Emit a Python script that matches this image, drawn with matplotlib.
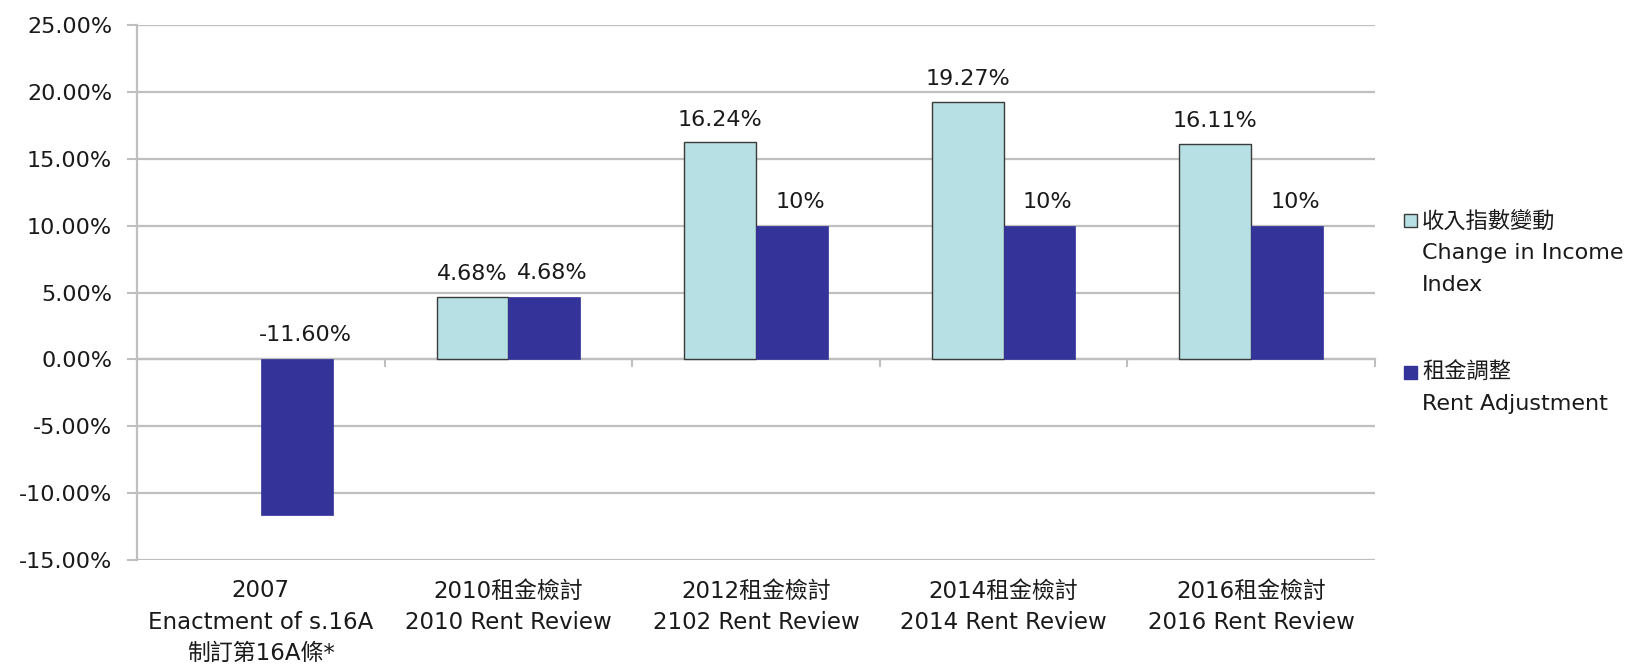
import matplotlib
matplotlib.use("Agg")
import matplotlib.pyplot as plt
import numpy as np
from matplotlib.patches import Rectangle

plt.rcParams['font.family'] = ['DejaVu Sans', 'Noto Sans CJK TC']

categories = ["2007\nEnactment of s.16A\n制訂第16A條*",
              "2010租金檢討\n2010 Rent Review",
              "2012租金檢討\n2102 Rent Review",
              "2014租金檢討\n2014 Rent Review",
              "2016租金檢討\n2016 Rent Review"]
income_change = [np.nan, 4.68, 16.24, 19.27, 16.11]
income_labels = ["", "4.68%", "16.24%", "19.27%", "16.11%"]
rent_adjust = [-11.60, 4.68, 10.0, 10.0, 10.0]
rent_labels = ["-11.60%", "4.68%", "10%", "10%", "10%"]
yticks = [-15, -10, -5, 0, 5, 10, 15, 20, 25]
legend_lines = [["收入指數變動", "Change in Income", "Index"],
                ["租金調整", "Rent Adjustment"]]

c_income = "#B7E0E4"
c_rent = "#333399"
grid_c = "#BFBFBF"
txt_c = "#1a1a1a"
fs = 16

W, H = 1643, 667
fig = plt.figure(figsize=(W / 100, H / 100), dpi=100)
ax = fig.add_axes([0.0834, 0.1604, 0.7535, 0.8021])

x = np.arange(len(categories))
w = 0.29
ax.bar(x - w / 2, income_change, w, color=c_income, edgecolor="#3A3A3A", linewidth=1.0, zorder=3)
ax.bar(x + w / 2, rent_adjust, w, color=c_rent, edgecolor=c_rent, linewidth=0.5, zorder=3)

for xi, v, lab in zip(x, income_change, income_labels):
    if lab:
        ax.annotate(lab, (xi - w / 2, v), xytext=(0, 9), textcoords="offset points",
                    ha="center", va="bottom", fontsize=fs, color=txt_c)
for xi, v, lab in zip(x, rent_adjust, rent_labels):
    base = max(v, 0)
    ax.annotate(lab, (xi + w / 2, base), xytext=(6, 10), textcoords="offset points",
                ha="center", va="bottom", fontsize=fs, color=txt_c)

ax.set_xlim(-0.5, len(categories) - 0.5)
ax.set_ylim(-15, 25)
ax.set_yticks(yticks)
ax.set_yticklabels([f"{t:.2f}%" for t in yticks], fontsize=fs, color=txt_c)
ax.yaxis.grid(True, color=grid_c, linewidth=1.6, zorder=0)
ax.set_axisbelow(True)
ax.tick_params(axis="y", length=7, width=1.5, color=grid_c, pad=11)

for s in ["top", "right"]:
    ax.spines[s].set_visible(False)
ax.spines["left"].set_color(grid_c)
ax.spines["left"].set_linewidth(1.6)
ax.spines["bottom"].set_position(("data", 0))
ax.spines["bottom"].set_color(grid_c)
ax.spines["bottom"].set_linewidth(1.6)
ax.spines["bottom"].set_zorder(2)

bounds = np.arange(len(categories) + 1) - 0.5
ax.set_xticks(bounds)
ax.set_xticklabels([])
ax.tick_params(axis="x", length=6, width=1.5, color=grid_c, direction="out")

sec = ax.secondary_xaxis(0.0)
sec.set_xticks(x)
sec.set_xticklabels(categories, fontsize=fs + 0.5, color=txt_c, linespacing=1.45)
sec.tick_params(length=0, pad=14)
sec.spines["bottom"].set_visible(False)

# legend (manual, to mimic multi-line entries with square at first line)
entries = [(c_income, "#3A3A3A", 221), (c_rent, c_rent, 372)]
line_h = 32
sq = 13
for (fc, ec, yc), lines in zip(entries, legend_lines):
    fig.add_artist(Rectangle((1404 / W, 1 - (yc + sq / 2) / H), sq / W, sq / H,
                             transform=fig.transFigure, facecolor=fc, edgecolor=ec,
                             linewidth=1.0))
    for i, ln in enumerate(lines):
        fig.text(1422 / W, 1 - (yc + i * line_h) / H, ln, fontsize=fs, color=txt_c,
                 ha="left", va="center")

fig.savefig("out.png", dpi=100)
